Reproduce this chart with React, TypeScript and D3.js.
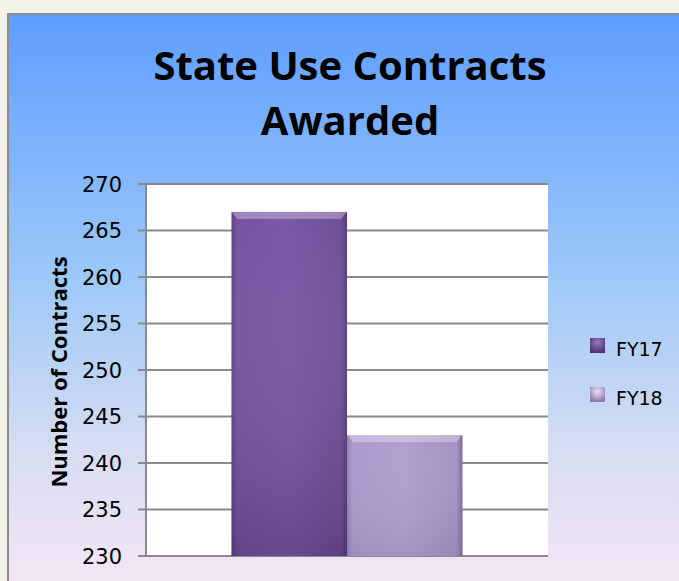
import React from "react";
import * as d3 from "d3";

const categories = ["FY"];
const seriesNames = ["FY17", "FY18"];
const seriesValues = [267, 243];
const yTicks = [230, 235, 240, 245, 250, 255, 260, 265, 270];

const W = 679;
const H = 581;
const margin = { left: 146, top: 184, right: 131, bottom: 25 };

export default function App() {
  const plotW = W - margin.left - margin.right;
  const plotH = H - margin.top - margin.bottom;

  const y = d3.scaleLinear().domain([230, 270]).range([plotH, 0]);
  // gap width 150% like the Excel original
  const xCat = d3.scaleBand().domain(categories).range([0, plotW]).paddingInner(0).paddingOuter(0.37);
  const xSer = d3.scaleBand().domain(seriesNames).range([0, xCat.bandwidth()]);

  const fills = ["url(#g17)", "url(#g18)"];
  const swatch = ["url(#s17)", "url(#s18)"];
  const font = "'Open Sans', Lato, sans-serif";

  return (
    <svg width={W} height={H} style={{ position: "absolute", left: 0, top: 0 }}>
      <defs>
        <linearGradient id="bg" x1="0" y1="0" x2="0" y2="1">
          <stop offset="0" stopColor="#5e9dff" />
          <stop offset="0.45" stopColor="#9cc8f8" />
          <stop offset="0.75" stopColor="#d6ddf2" />
          <stop offset="1" stopColor="#f7e6f6" />
        </linearGradient>
        <linearGradient id="g17" x1="0" y1="0" x2="1" y2="0">
          <stop offset="0" stopColor="#5e3f86" />
          <stop offset="0.05" stopColor="#7553a0" />
          <stop offset="0.5" stopColor="#7a58a5" />
          <stop offset="0.95" stopColor="#6f4f97" />
          <stop offset="1" stopColor="#563a7a" />
        </linearGradient>
        <linearGradient id="shade" x1="0" y1="0" x2="0" y2="1">
          <stop offset="0" stopColor="#ffffff" stopOpacity="0" />
          <stop offset="1" stopColor="#1a0f30" stopOpacity="0.35" />
        </linearGradient>
        <linearGradient id="g18" x1="0" y1="0" x2="1" y2="0">
          <stop offset="0" stopColor="#9484b6" />
          <stop offset="0.05" stopColor="#ab9bcd" />
          <stop offset="0.5" stopColor="#b0a0d0" />
          <stop offset="0.95" stopColor="#a393c3" />
          <stop offset="1" stopColor="#7c6c9c" />
        </linearGradient>
        <radialGradient id="s17" cx="0.5" cy="0.3" r="0.7">
          <stop offset="0" stopColor="#9a78c4" />
          <stop offset="1" stopColor="#4e336e" />
        </radialGradient>
        <radialGradient id="s18" cx="0.5" cy="0.3" r="0.7">
          <stop offset="0" stopColor="#ece0fa" />
          <stop offset="1" stopColor="#8a7aa4" />
        </radialGradient>
      </defs>

      <rect x={0} y={0} width={W} height={H} fill="#f3f2ea" />
      <rect x={8} y={14} width={W} height={H} fill="url(#bg)" stroke="#8c8c8c" strokeWidth={2} />

      <text x={350} y={80} textAnchor="middle" fontFamily={font} fontWeight="bold" fontSize={40}>
        State Use Contracts
      </text>
      <text x={350} y={135} textAnchor="middle" fontFamily={font} fontWeight="bold" fontSize={40}>
        Awarded
      </text>

      <g transform={`translate(${margin.left},${margin.top})`}>
        <rect x={0} y={0} width={plotW} height={plotH} fill="#ffffff" />
        {yTicks.map((t) => (
          <g key={t}>
            <line x1={-8} x2={plotW} y1={y(t)} y2={y(t)} stroke="#8a8a8a" strokeWidth={2} />
            <text x={-24} y={y(t)} dy="0.36em" textAnchor="end" fontFamily="'DejaVu Sans', sans-serif" fontSize={21}>
              {t}
            </text>
          </g>
        ))}
        <line x1={0} x2={0} y1={0} y2={plotH} stroke="#8a8a8a" strokeWidth={2} />

        {categories.map((c) =>
          seriesNames.map((s, i) => {
            const bx = (xCat(c) || 0) + (xSer(s) || 0);
            const by = y(seriesValues[i]);
            const bh = plotH - by;
            const bw = xSer.bandwidth();
            return (
              <g key={s}>
                <rect x={bx} y={by} width={bw} height={bh} fill={fills[i]} />
                <rect x={bx} y={by} width={bw} height={bh} fill="url(#shade)" opacity={i === 0 ? 0.6 : 0.25} />
                <polygon
                  points={`${bx},${by} ${bx + bw},${by} ${bx + bw - 6},${by + 7} ${bx + 6},${by + 7}`}
                  fill="#ffffff"
                  opacity={0.3}
                />
              </g>
            );
          })
        )}
      </g>

      <text
        transform={`translate(67,372) rotate(-90)`}
        textAnchor="middle"
        fontFamily={font}
        fontWeight="bold"
        fontSize={22}
      >
        Number of Contracts
      </text>

      {seriesNames.map((s, i) => (
        <g key={s} transform={`translate(590,${338 + i * 49})`}>
          <rect x={0} y={0} width={15} height={15} fill={swatch[i]} />
          <text x={26} y={18} fontFamily="'DejaVu Sans', sans-serif" fontSize={19}>
            {s}
          </text>
        </g>
      ))}
    </svg>
  );
}
